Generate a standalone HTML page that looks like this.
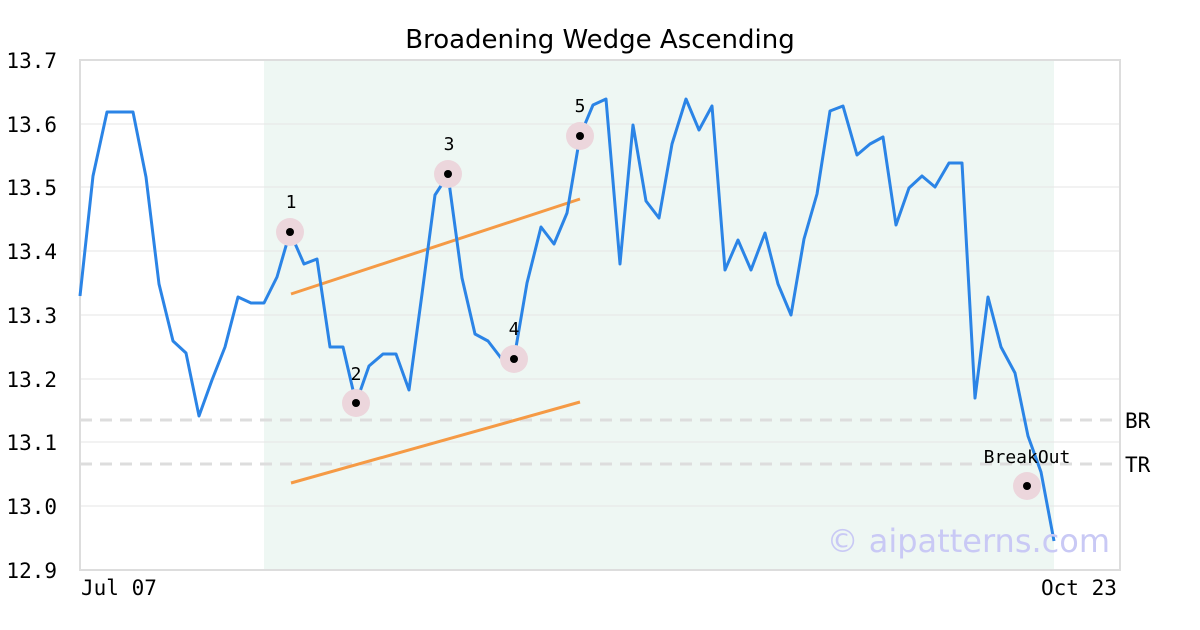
<!DOCTYPE html>
<html><head><meta charset="utf-8"><style>body{margin:0;background:#fff}svg{display:block}</style></head><body>
<svg width="1200" height="630" xmlns="http://www.w3.org/2000/svg">
<rect width="1200" height="630" fill="#fff"/>
<rect x="264" y="60" width="790" height="510" fill="#eef7f3"/>
<g stroke="#e6e6e6" stroke-width="1">
<line x1="80" y1="124" x2="1120" y2="124"/><line x1="80" y1="187" x2="1120" y2="187"/>
<line x1="80" y1="251" x2="1120" y2="251"/><line x1="80" y1="315" x2="1120" y2="315"/>
<line x1="80" y1="379" x2="1120" y2="379"/><line x1="80" y1="442" x2="1120" y2="442"/>
<line x1="80" y1="506" x2="1120" y2="506"/></g>
<g stroke="#dddddd" stroke-width="3" stroke-dasharray="12,8">
<line x1="80" y1="420" x2="1120" y2="420"/><line x1="80" y1="464" x2="1120" y2="464"/></g>
<rect x="80" y="60" width="1040" height="510" fill="none" stroke="#dddddd" stroke-width="2"/>
<g stroke="#f59a45" stroke-width="3"><line x1="291" y1="294" x2="580" y2="199"/><line x1="291" y1="483" x2="580" y2="402"/></g>
<polyline fill="none" stroke="#2b84e6" stroke-width="3" stroke-linejoin="round" points="80,296 93,176 107,112 120,112 133,112 146,177 159,284 173,341 186,353 199,416 212,380 225,347 238,297 251,303 264,303 277,277 290,232 304,264 317,259 330,347 343,347 356,403 369,366 383,354 396,354 409,390 422,294 435,195 448,175 462,278 475,334 488,341 501,358 514,359 527,283 541,227 554,244 567,213 580,136 593,105 606,99 620,264 633,125 646,201 659,218 672,144 686,99 699,130 712,106 725,270 738,240 751,270 765,233 778,284 791,315 804,239 817,194 830,111 843,106 857,155 870,144 883,137 896,225 909,188 922,176 935,187 949,163 962,163 975,398 988,297 1001,347 1015,373 1028,436 1041,472 1054,541"/>
<g fill="#ecd6dc"><circle cx="290" cy="232" r="14"/><circle cx="356" cy="403" r="14"/><circle cx="448" cy="174" r="14"/><circle cx="514" cy="359" r="14"/><circle cx="580" cy="136" r="14"/><circle cx="1027" cy="486" r="14"/></g>
<g fill="#000"><circle cx="290" cy="232" r="4"/><circle cx="356" cy="403" r="4"/><circle cx="448" cy="174" r="4"/><circle cx="514" cy="359" r="4"/><circle cx="580" cy="136" r="4"/><circle cx="1027" cy="486" r="4"/></g>
<g font-family="DejaVu Sans Mono, Liberation Mono, monospace" font-size="18" fill="#000" text-anchor="middle">
<text x="291" y="208">1</text><text x="356" y="380">2</text><text x="449" y="150">3</text><text x="514" y="335">4</text><text x="580" y="112">5</text><text x="1027" y="463">BreakOut</text></g>
<g font-family="DejaVu Sans Mono, Liberation Mono, monospace" font-size="21" fill="#000" text-anchor="end">
<text x="57" y="68">13.7</text><text x="57" y="132">13.6</text><text x="57" y="195">13.5</text><text x="57" y="259">13.4</text><text x="57" y="323">13.3</text><text x="57" y="387">13.2</text><text x="57" y="450">13.1</text><text x="57" y="514">13.0</text><text x="57" y="578">12.9</text></g>
<g font-family="DejaVu Sans Mono, Liberation Mono, monospace" font-size="21" fill="#000">
<text x="81" y="595">Jul 07</text><text x="1041" y="595">Oct 23</text><text x="1125" y="428">BR</text><text x="1125" y="472">TR</text></g>
<text x="600" y="48" text-anchor="middle" font-family="DejaVu Sans, Liberation Sans, sans-serif" font-size="26" fill="#000">Broadening Wedge Ascending</text>
<text x="1110" y="552" text-anchor="end" font-family="DejaVu Sans, Liberation Sans, sans-serif" font-size="32" fill="#c9c9f5">© aipatterns.com</text>
</svg>
</body></html>
